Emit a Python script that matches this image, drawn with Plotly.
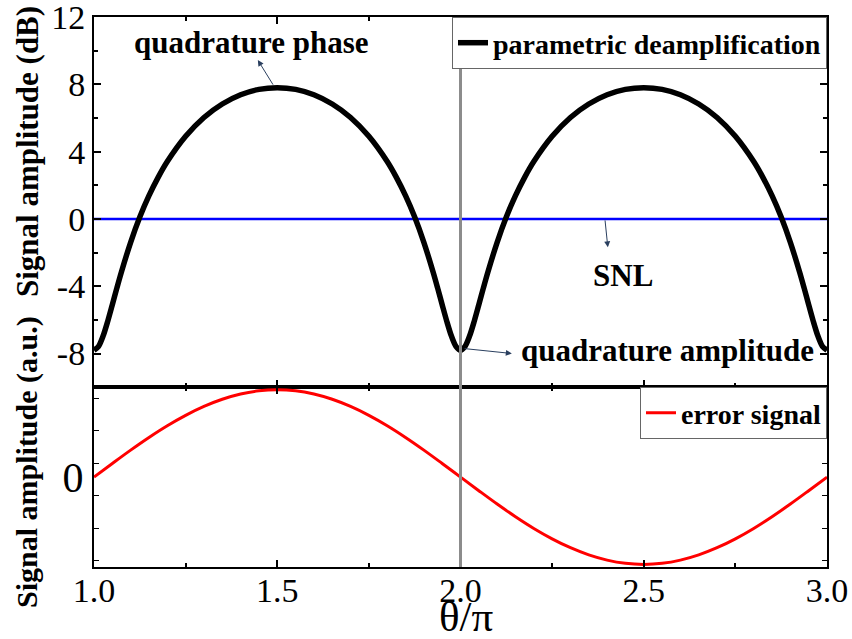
import plotly.graph_objects as go
from plotly.subplots import make_subplots

# black curve, one period: phase offset (theta/pi) and dB value
period_off = [0.0, 0.0125, 0.025, 0.0375, 0.05, 0.0625, 0.075, 0.1, 0.125, 0.15,
              0.175, 0.2, 0.25, 0.3, 0.35, 0.4, 0.45, 0.5, 0.55, 0.6,
              0.65, 0.7, 0.75, 0.8, 0.825, 0.85, 0.875, 0.9, 0.925, 0.9375,
              0.95, 0.9625, 0.975, 0.9875]
period_db = [-7.80, -7.57, -6.95, -6.08, -5.10, -4.10, -3.14, -1.39, 0.11, 1.38,
             2.47, 3.41, 4.91, 6.03, 6.83, 7.38, 7.70, 7.80, 7.70, 7.38,
             6.83, 6.03, 4.91, 3.41, 2.47, 1.38, 0.11, -1.39, -3.14, -4.10,
             -5.10, -6.08, -6.95, -7.57]
theta = [1.0 + o for o in period_off] + [2.0 + o for o in period_off] + [3.0]
deamp_db = period_db + period_db + [-7.80]

# error signal (a.u.), step 0.05 in theta/pi
theta_err = [round(1.0 + 0.05 * i, 2) for i in range(41)]
err_half = [0.0, 0.156, 0.309, 0.454, 0.588, 0.707, 0.809, 0.891, 0.951, 0.988,
            1.0, 0.988, 0.951, 0.891, 0.809, 0.707, 0.588, 0.454, 0.309, 0.156]
error_sig = err_half + [-v for v in err_half] + [0.0]

snl_x = [1.0, 3.0]
snl_y = [0.0, 0.0]

db_ticks = [-8, -4, 0, 4, 8, 12]
db_labels = ["-8", "-4", "0", "4", "8", "12"]

serif = "Liberation Serif"

fig = make_subplots(rows=2, cols=1, shared_xaxes=True, vertical_spacing=0,
                    row_heights=[0.673, 0.327])

fig.add_trace(go.Scatter(x=snl_x, y=snl_y, mode="lines", showlegend=False,
                         line=dict(color="#0000ff", width=2.5)), row=1, col=1)
fig.add_trace(go.Scatter(x=theta, y=deamp_db, mode="lines", name="parametric deamplification",
                         line=dict(color="black", width=5.5, shape="spline", smoothing=0.8),
                         legend="legend"), row=1, col=1)
fig.add_trace(go.Scatter(x=theta_err, y=error_sig, mode="lines", name="error signal",
                         line=dict(color="#ff0000", width=3, shape="spline"),
                         legend="legend2"), row=2, col=1)

axis_common = dict(showline=True, linecolor="black", linewidth=2, mirror="ticks",
                   ticks="inside", tickcolor="black", tickwidth=1.5, showgrid=False,
                   zeroline=False, automargin=False, ticklabeloverflow="allow")

fig.update_xaxes(range=[1.0, 3.0], dtick=0.5, tick0=1.0, ticklen=7,
                 minor=dict(ticks="inside", dtick=0.25, tick0=1.0, ticklen=4,
                            tickcolor="black"),
                 **axis_common)
fig.update_xaxes(showticklabels=False, row=1, col=1)
fig.update_xaxes(tickformat=".1f", tickfont=dict(family=serif, size=34, color="black"),
                 ticklabelstandoff=-8, row=2, col=1)

fig.update_yaxes(range=[-10, 12.0001], tickvals=db_ticks, ticktext=db_labels, ticklen=7,
                 minor=dict(ticks="inside", dtick=2, tick0=0, ticklen=4, tickcolor="black"),
                 tickfont=dict(family=serif, size=34, color="black"),
                 row=1, col=1, **axis_common)
axis_bottom = dict(axis_common)
axis_bottom["ticks"] = ""
fig.update_yaxes(range=[-1.03, 1.03], tickvals=[0], ticktext=["0"],
                 minor=dict(ticks="inside", dtick=0.372, tick0=0.157, ticklen=5,
                            tickcolor="black"),
                 tickfont=dict(family=serif, size=42, color="black"),
                 row=2, col=1, **axis_bottom)

# vertical marker at theta = 2 pi
fig.add_shape(type="line", x0=2.0, x1=2.0, y0=0, y1=1, xref="x", yref="paper",
              line=dict(color="#8c8c8c", width=3), layer="above")

bold = dict(family=serif, size=31, color="black")
anns = [
    dict(x=1.447, y=9.44, ax=1.491, ay=7.89, xref="x", yref="y", axref="x", ayref="y",
         text="", showarrow=True, arrowhead=2, arrowsize=1.2, arrowwidth=1),
    dict(x=1.43, y=10.5, xref="x", yref="y", text="<b>quadrature phase</b>",
         showarrow=False, font=bold),
    dict(x=2.402, y=-1.69, ax=2.394, ay=0.0, xref="x", yref="y", axref="x", ayref="y",
         text="", showarrow=True, arrowhead=2, arrowsize=1.2, arrowwidth=1),
    dict(x=2.443, y=-3.36, xref="x", yref="y", text="<b>SNL</b>",
         showarrow=False, font=bold),
    dict(x=2.14, y=-8.0, ax=2.007, ay=-7.70, xref="x", yref="y", axref="x", ayref="y",
         text="", showarrow=True, arrowhead=2, arrowsize=1.2, arrowwidth=1),
    dict(x=2.566, y=-7.85, xref="x", yref="y", text="<b>quadrature amplitude</b>",
         showarrow=False, font=bold),
    dict(x=27, y=152, xref="paper", yref="paper", text="<b>Signal amplitude (dB)</b>",
         showarrow=False, textangle=-90, font=bold),
    dict(x=27, y=462, xref="paper", yref="paper", text="<b>Signal amplitude (a.u.)</b>",
         showarrow=False, textangle=-90, font=dict(family=serif, size=30, color="black")),
    dict(x=466, y=616, xref="paper", yref="paper", text="θ/π",
         showarrow=False, font=dict(family=serif, size=43, color="black")),
]
# convert pixel anchors of the paper-positioned labels to paper fractions
W, H = 852, 639
L, R, T, B = 94, 25, 17, 72
for a in anns:
    if a["xref"] == "paper":
        a["x"] = (a["x"] - L) / (W - L - R)
        a["y"] = 1 - (a["y"] - T) / (H - T - B)
        a["xanchor"] = "center"
        a["yanchor"] = "middle"
fig.update_layout(annotations=anns)

legend_style = dict(bordercolor="#666666", borderwidth=1, bgcolor="white",
                    font=dict(family=serif, size=28, color="black", weight="bold"),
                    xanchor="right", yanchor="top", x=1, tracegroupgap=0,
                    itemwidth=30)
fig.update_layout(
    legend=dict(y=1.0, **legend_style),
    legend2=dict(y=0.327, **legend_style),
    width=W, height=H,
    margin=dict(l=L, r=R, t=T, b=B, autoexpand=False),
    paper_bgcolor="white", plot_bgcolor="white",
    font=dict(family=serif, color="black"),
)

fig.write_html("out.html", config={"displayModeBar": False},
               post_script="document.body.style.margin='0';")
